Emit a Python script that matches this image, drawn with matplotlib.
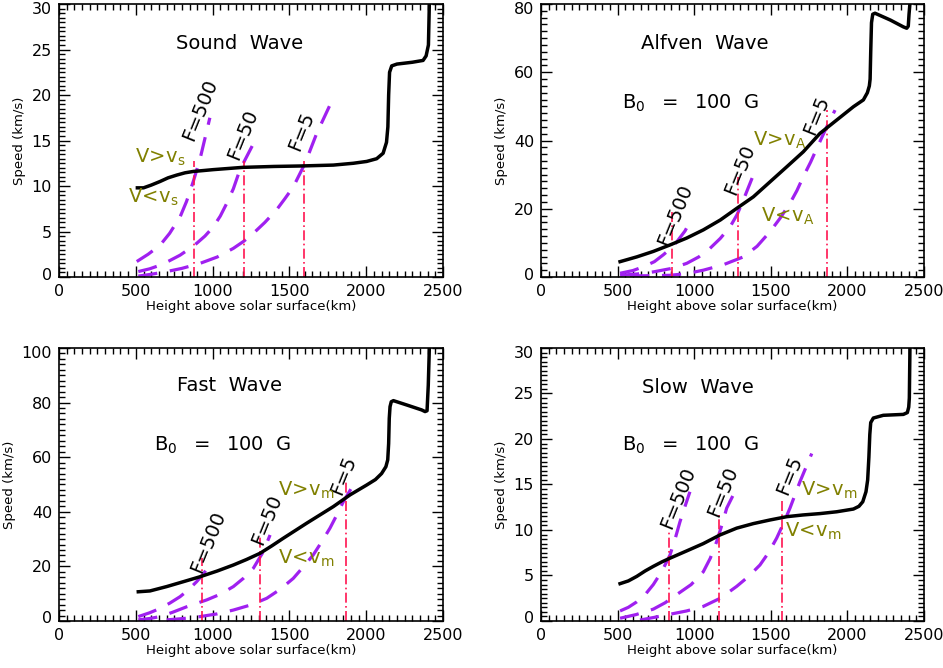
import matplotlib
matplotlib.use('Agg')
import numpy as np
import matplotlib.pyplot as plt
from matplotlib.ticker import AutoMinorLocator
from matplotlib.transforms import ScaledTranslation

# ---- data (height in km, speed in km/s) ----
# Sound wave
sound_h = [510, 550, 600, 658, 710, 766, 820, 874, 940, 1004, 1197, 1400, 1569, 1786,
           1916, 2003, 2068, 2110, 2132, 2141, 2146, 2152, 2166, 2200, 2300, 2370,
           2390, 2405, 2411]
sound_v = [9.8, 9.8, 10.1, 10.5, 10.9, 11.2, 11.45, 11.6, 11.7, 11.8, 12.05, 12.15, 12.2,
           12.3, 12.5, 12.7, 13.0, 13.6, 14.8, 16.5, 20.0, 22.5, 23.2, 23.4, 23.6, 23.8,
           24.3, 25.5, 30.1]
sound_f500_h = [506, 580, 658, 720, 788, 830, 874, 917, 982]
sound_f500_v = [1.7, 2.5, 3.5, 4.8, 6.6, 8.3, 10.5, 12.9, 17.5]
sound_f50_h = [516, 590, 658, 720, 788, 840, 896, 950, 1004, 1050, 1092, 1135, 1178, 1276]
sound_f50_v = [0.6, 0.9, 1.3, 1.8, 2.4, 3.0, 3.7, 4.5, 5.5, 6.7, 8.1, 9.7, 11.8, 15.0]
sound_f5_h = [516, 600, 701, 800, 918, 1030, 1135, 1200, 1265, 1340, 1417, 1470, 1525,
              1602, 1678, 1764]
sound_f5_v = [0.1, 0.3, 0.6, 0.95, 1.5, 2.2, 3.15, 3.9, 4.8, 6.0, 7.4, 8.6, 9.9,
              12.5, 15.8, 18.9]
sound_cut_h = [877, 1202, 1595]
sound_cut_top = [12.7, 12.7, 12.7]

# Alfven wave
alfven_h = [516, 625, 733, 842, 950, 1059, 1170, 1277, 1386, 1495, 1604, 1712, 1821,
            1930, 2039, 2104, 2130, 2143, 2148, 2152, 2157, 2165, 2180, 2280, 2365,
            2387, 2397, 2402, 2408]
alfven_v = [4.5, 5.9, 7.5, 9.4, 11.4, 13.8, 16.7, 20.1, 23.5, 27.9, 32.3, 36.7, 42.1,
            46.0, 49.9, 51.9, 54.0, 56.0, 58.0, 66.0, 74.5, 77.0, 77.3, 75.3, 73.3,
            72.9, 73.5, 77.0, 80.2]
alfven_f500_h = [516, 600, 668, 740, 798, 850, 886, 940, 984]
alfven_f500_v = [1.1, 1.9, 3.0, 4.5, 6.5, 8.5, 10.3, 13.5, 17.2]
alfven_f50_h = [516, 630, 733, 850, 951, 1030, 1103, 1170, 1234, 1280, 1321, 1386]
alfven_f50_v = [0.5, 0.9, 1.5, 2.5, 4.0, 5.9, 8.4, 11.3, 14.7, 18.3, 22.6, 29.9]
alfven_f5_h = [581, 720, 842, 950, 1059, 1190, 1321, 1410, 1495, 1560, 1625, 1670,
               1712, 1760, 1800, 1865, 1919]
alfven_f5_v = [0.3, 0.4, 0.5, 1.0, 2.0, 3.6, 5.9, 9.0, 13.3, 17.2, 21.6, 25.3,
               29.4, 33.7, 37.7, 44.0, 48.9]
alfven_cut_h = [853, 1288, 1865]
alfven_cut_top = [19.6, 29.4, 48.9]

# Fast wave
fast_h = [516, 592, 701, 810, 918, 1030, 1135, 1220, 1309, 1385, 1460, 1612, 1786,
          1895, 2003, 2060, 2100, 2128, 2140, 2146, 2150, 2155, 2163, 2177, 2270,
          2361, 2383, 2396, 2404, 2411]
fast_v = [10.7, 11.0, 12.6, 14.4, 16.2, 18.3, 20.5, 22.5, 24.8, 27.5, 30.3, 35.8, 41.9,
          46.2, 49.8, 51.8, 54.0, 56.5, 59.0, 65.0, 74.2, 78.5, 80.3, 80.7, 79.0,
          77.3, 76.7, 77.0, 86.4, 100.0]
fast_f500_h = [516, 590, 658, 720, 788, 840, 896, 940, 983]
fast_f500_v = [1.6, 3.0, 4.6, 6.5, 8.9, 11.3, 14.4, 17.3, 20.5]
fast_f50_h = [516, 590, 658, 740, 831, 961, 1050, 1135, 1200, 1265, 1330, 1374]
fast_f50_v = [0.4, 0.9, 1.6, 3.2, 5.2, 7.7, 9.8, 12.6, 15.6, 19.3, 25.4, 31.5]
fast_f5_h = [701, 810, 918, 1030, 1135, 1250, 1352, 1440, 1525, 1590, 1655, 1710,
             1764, 1810, 1851, 1916]
fast_f5_v = [0.4, 0.9, 1.6, 2.6, 4.0, 5.9, 8.3, 11.6, 15.6, 19.8, 24.2, 29.0,
             34.0, 39.0, 43.7, 49.8]
fast_cut_h = [933, 1309, 1866]
fast_cut_top = [23.0, 31.5, 51.0]

# Slow wave
slow_h = [516, 570, 625, 680, 733, 790, 842, 951, 1059, 1168, 1277, 1386, 1495, 1604,
          1710, 1821, 1930, 2039, 2075, 2100, 2121, 2132, 2140, 2146, 2152, 2169,
          2234, 2365, 2391, 2400, 2404, 2408]
slow_v = [4.1, 4.4, 4.9, 5.5, 6.0, 6.5, 6.9, 7.7, 8.5, 9.45, 10.2, 10.7, 11.1, 11.46,
          11.65, 11.8, 12.0, 12.3, 12.6, 13.1, 14.2, 15.5, 18.0, 20.5, 21.8, 22.3,
          22.6, 22.7, 22.9, 23.5, 24.5, 30.0]
slow_f500_h = [516, 570, 625, 680, 733, 790, 842, 875, 907, 940, 972]
slow_f500_v = [1.1, 1.5, 2.1, 2.9, 4.0, 5.5, 7.25, 9.0, 10.9, 12.6, 14.2]
slow_f50_h = [516, 620, 733, 810, 886, 980, 1059, 1105, 1146, 1180, 1212, 1277]
slow_f50_v = [0.3, 0.7, 1.3, 2.0, 2.9, 4.0, 5.4, 6.9, 8.7, 10.5, 12.4, 14.6]
slow_f5_h = [646, 740, 842, 950, 1059, 1170, 1277, 1355, 1429, 1485, 1538, 1582,
             1625, 1690, 1767]
slow_f5_v = [0.1, 0.4, 0.74, 1.1, 1.6, 2.5, 3.8, 4.9, 6.15, 7.5, 9.1, 10.7,
             12.4, 15.3, 18.4]
slow_cut_h = [836, 1162, 1575]
slow_cut_top = [9.8, 11.6, 13.5]

f_labels = ['F=500', 'F=50', 'F=5']

BLACK = 'black'
PURPLE = '#A020F0'
RED = '#FF1450'
OLIVE = '#808000'

fig = plt.figure(figsize=(9.43, 6.68), dpi=100)
ax1 = fig.add_axes([0.0626, 0.5853, 0.4072, 0.4087])
ax2 = fig.add_axes([0.5737, 0.5853, 0.4062, 0.4087])
ax3 = fig.add_axes([0.0626, 0.0704, 0.4072, 0.4087])
ax4 = fig.add_axes([0.5737, 0.0704, 0.4062, 0.4087])


def draw(ax, h, v, curves, cut_h, cut_top, ymax, ystep):
    for ch, cv in curves:
        ax.plot(ch, cv, color=PURPLE, lw=2.3, ls=(0, (6, 4)))
    for x, top in zip(cut_h, cut_top):
        ax.plot([x, x], [0, top], color=RED, lw=1.2, ls=(0, (6, 2, 1, 2)))
    ax.plot(h, v, color=BLACK, lw=2.5, solid_joinstyle='round')

    ax.set_xticks(np.arange(0, 2501, 500))
    ax.set_yticks(np.arange(0, ymax + 0.1, ystep))
    ax.set_xlim(0, 2500)
    ax.set_ylim(0, ymax)
    ax.xaxis.set_minor_locator(AutoMinorLocator(10))
    ax.yaxis.set_minor_locator(AutoMinorLocator(10))
    ax.tick_params(which='both', direction='in', top=True, right=True,
                   labelsize=11.5, width=1)
    ax.tick_params(which='major', length=8, pad=5)
    ax.tick_params(which='minor', length=4)
    for s in ax.spines.values():
        s.set_linewidth(1.2)
    # end labels sit a little inside the frame, as in the original
    ylabs = ax.get_yticklabels()
    ylabs[0].set_transform(ylabs[0].get_transform() +
                           ScaledTranslation(0, 0.035, fig.dpi_scale_trans))
    ylabs[-1].set_transform(ylabs[-1].get_transform() +
                            ScaledTranslation(0, -0.04, fig.dpi_scale_trans))
    ax.set_xlabel('Height above solar surface(km)', fontsize=9.5, labelpad=1)
    ax.set_ylabel('Speed (km/s)', fontsize=9.5, labelpad=4)


def flabels(ax, pos):
    for lab, (x, y) in zip(f_labels, pos):
        ax.text(x, y, lab, fontsize=14, rotation=68, ha='center', va='center',
                rotation_mode='anchor')


# Sound wave
draw(ax1, sound_h, sound_v,
     [(sound_f500_h, sound_f500_v), (sound_f50_h, sound_f50_v), (sound_f5_h, sound_f5_v)],
     sound_cut_h, sound_cut_top, 30, 5)
ax1.text(1175, 25.7, 'Sound  Wave', fontsize=14, ha='center', va='center')
flabels(ax1, [(918, 18.4), (1198, 15.6), (1580, 16.0)])
ax1.text(658, 13.2, r'$\mathregular{V\!>\!v_s}$', color=OLIVE, fontsize=14, ha='center', va='center')
ax1.text(614, 8.7, r'$\mathregular{V\!<\!v_s}$', color=OLIVE, fontsize=14, ha='center', va='center')

# Alfven wave
draw(ax2, alfven_h, alfven_v,
     [(alfven_f500_h, alfven_f500_v), (alfven_f50_h, alfven_f50_v), (alfven_f5_h, alfven_f5_v)],
     alfven_cut_h, alfven_cut_top, 80, 20)
ax2.text(1070, 68.5, 'Alfven  Wave', fontsize=14, ha='center', va='center')
ax2.text(527, 50.9, r'$\mathregular{B_0\ \ =\ \ 100\ \ G}$', fontsize=14, ha='left', va='center')
flabels(ax2, [(875, 18.2), (1299, 31.4), (1800, 47.5)])
ax2.text(1560, 40.1, r'$\mathregular{V\!>\!v_A}$', color=OLIVE, fontsize=14, ha='center', va='center')
ax2.text(1614, 17.7, r'$\mathregular{V\!<\!v_A}$', color=OLIVE, fontsize=14, ha='center', va='center')

# Fast wave
draw(ax3, fast_h, fast_v,
     [(fast_f500_h, fast_f500_v), (fast_f50_h, fast_f50_v), (fast_f5_h, fast_f5_v)],
     fast_cut_h, fast_cut_top, 100, 20)
ax3.text(1113, 86.2, 'Fast  Wave', fontsize=14, ha='center', va='center')
ax3.text(620, 64.5, r'$\mathregular{B_0\ \ =\ \ 100\ \ G}$', fontsize=14, ha='left', va='center')
flabels(ax3, [(972, 29.0), (1352, 37.0), (1851, 53.5)])
ax3.text(1612, 48.0, r'$\mathregular{V\!>\!v_m}$', color=OLIVE, fontsize=14, ha='center', va='center')
ax3.text(1612, 23.0, r'$\mathregular{V\!<\!v_m}$', color=OLIVE, fontsize=14, ha='center', va='center')

# Slow wave
draw(ax4, slow_h, slow_v,
     [(slow_f500_h, slow_f500_v), (slow_f50_h, slow_f50_v), (slow_f5_h, slow_f5_v)],
     slow_cut_h, slow_cut_top, 30, 5)
ax4.text(1027, 25.7, 'Slow  Wave', fontsize=14, ha='center', va='center')
ax4.text(527, 19.3, r'$\mathregular{B_0\ \ =\ \ 100\ \ G}$', fontsize=14, ha='left', va='center')
flabels(ax4, [(893, 13.5), (1190, 14.2), (1625, 16.0)])
ax4.text(1886, 14.4, r'$\mathregular{V\!>\!v_m}$', color=OLIVE, fontsize=14, ha='center', va='center')
ax4.text(1777, 9.8, r'$\mathregular{V\!<\!v_m}$', color=OLIVE, fontsize=14, ha='center', va='center')

fig.savefig('out.png', dpi=100)
